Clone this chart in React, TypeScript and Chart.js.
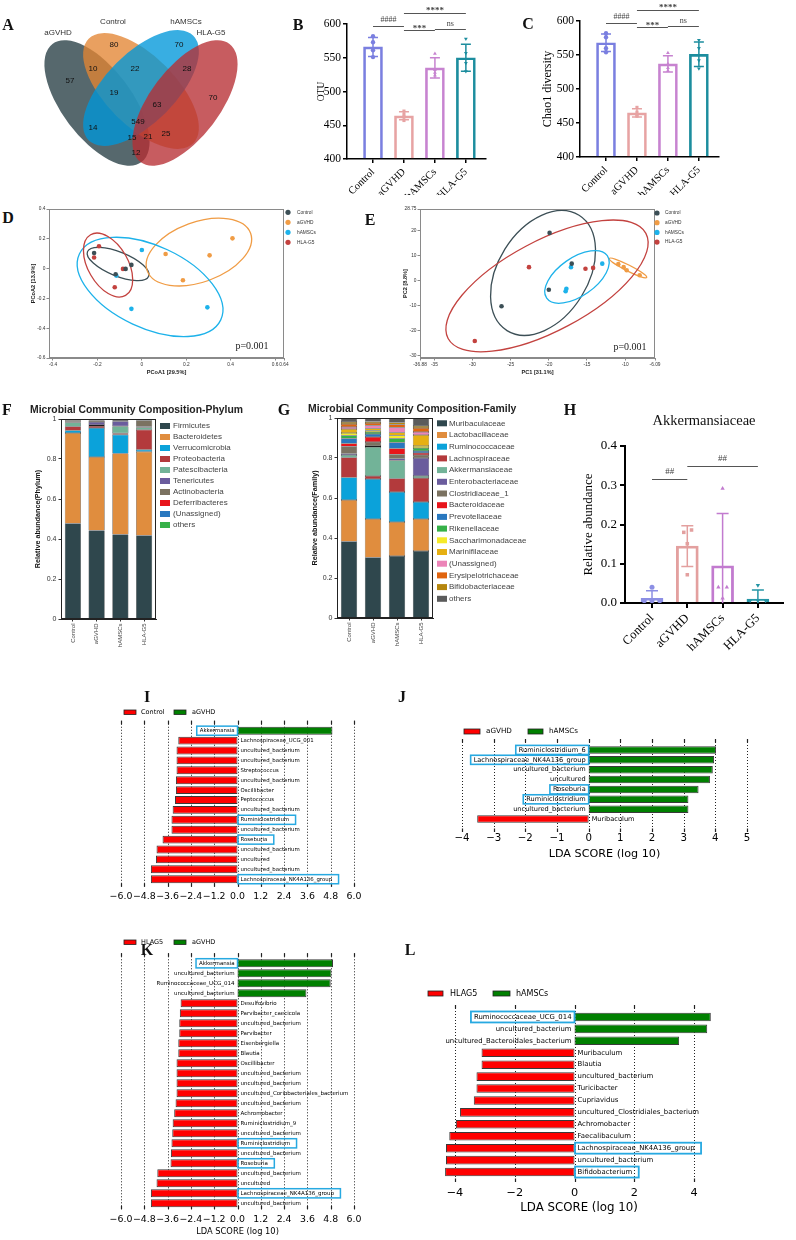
import React, { useEffect, useRef } from "react";
import { Chart, registerables } from "chart.js";

Chart.register(...registerables);

const SERIF = '"Liberation Serif", "Times New Roman", serif';
const SANS = '"Liberation Sans", Arial, sans-serif';
const DJV = '"DejaVu Sans", sans-serif';

const GROUPS = ["Control", "aGVHD", "hAMSCs", "HLA-G5"];

/* ---------- A : Venn ---------- */
const VENN_SETS = ["aGVHD", "Control", "hAMSCs", "HLA-G5"];
const VENN_COLORS = ["#263e44", "#e38533", "#0097da", "#b72e33"];
const VENN_COUNTS = [57, 80, 10, 22, 70, 28, 70, 19, 63, 549, 14, 15, 21, 25, 12];
const VENN_COUNT_POS = [[70, 81], [114, 45], [93, 69], [135, 69], [179, 45], [187, 69], [213, 98], [114, 93], [157, 105], [138, 122], [93, 128], [132, 138], [148, 137], [166, 134], [136, 153]];
const VENN_NAME_POS = [[58, 33], [113, 22], [186, 22], [211, 33]];
const VENN_SHAPES = [
  { cx: 97, cy: 103, a: 74, b: 35, rot: 53 },
  { cx: 141, cy: 91, a: 74, b: 35, rot: 45 },
  { cx: 141, cy: 88, a: 74, b: 35, rot: -45 },
  { cx: 185, cy: 103, a: 74, b: 35, rot: -53 },
];

/* ---------- B, C, H : bar + dots ---------- */
const BC_COLORS = ["#7a7fe0", "#e7a3a3", "#c783d0", "#1c8d9e"];
const H_COLORS = ["#8c8fe4", "#e3a09f", "#c27bcf", "#2596a6"];
const POINT_SHAPES = ["circle", "rect", "triangle", "triangle"];
const POINT_ROT = [0, 0, 0, 180];

const OTU_MEAN = [566, 464, 535, 550];
const OTU_SD = [14, 6, 15, 20];
const OTU_POINTS = [[582, 573, 561, 551], [471, 466, 462, 457], [556, 532, 528, 524], [578, 557, 542, 530]];
const OTU_SIG = [
  { a: 0, b: 1, y: 597, t: "####", dy: -5, bold: false },
  { a: 1, b: 3, y: 616, t: "****", dy: -1, bold: true },
  { a: 1, b: 2, y: 591, t: "***", dy: 0, bold: true },
  { a: 2, b: 3, y: 593, t: "ns", dy: -4, bold: false },
];

const CHAO_MEAN = [568, 465, 537, 551];
const CHAO_SD = [13, 6, 12, 18];
const CHAO_POINTS = [[582, 576, 560, 554], [473, 466, 461, 460], [553, 537, 531, 527], [572, 560, 542, 530]];
const CHAO_SIG = OTU_SIG;

const AKK_MEAN = [0.012, 0.145, 0.095, 0.01];
const AKK_SD = [0.019, 0.052, 0.133, 0.023];
const AKK_POINTS = [[0.04, 0.006, 0.006, 0.006], [0.186, 0.18, 0.151, 0.072], [0.292, 0.04, 0.04, 0.012], [0.045, 0.006, 0.006, 0.006]];
const AKK_JITTER = [[0, -0.22, 0, 0.22], [0.12, -0.1, 0, 0], [0, -0.12, 0.12, 0], [0, -0.22, 0, 0.22]];
const AKK_SIG = [
  { a: 0, b: 1, y: 0.316, t: "##", dy: -6, bold: false },
  { a: 1, b: 3, y: 0.349, t: "##", dy: -6, bold: false },
];

/* ---------- D, E : ordination ---------- */
const ORD_COLORS = ["#3c4f56", "#f09c45", "#1db2ea", "#c3423f"];
const PCOA_POINTS = [
  [[-0.215, 0.105], [-0.047, 0.025], [-0.073, -0.002], [-0.118, -0.038]],
  [[0.107, 0.098], [0.185, -0.078], [0.305, 0.089], [0.408, 0.203]],
  [[0.0, 0.125], [-0.115, -0.047], [-0.047, -0.27], [0.295, -0.26]],
  [[-0.193, 0.15], [-0.215, 0.074], [-0.085, -0.002], [-0.122, -0.125]],
];
const PCOA_ELLIPSES = [
  { cx: -0.107, cy: 0.031, a: 33, b: 12, rot: 22 },
  { cx: 0.257, cy: 0.111, a: 55, b: 30, rot: -20 },
  { cx: 0.037, cy: -0.123, a: 78, b: 41, rot: 25 },
  { cx: -0.152, cy: 0.024, a: 35, b: 20, rot: 60 },
];
const PCOA_XTICKS = [-0.4, -0.2, 0, 0.2, 0.4, 0.6, 0.64];
const PCOA_YTICKS = [-0.6, -0.4, -0.2, 0, 0.2, 0.4];

const PCA_POINTS = [
  [[-19.9, 19.2], [-17.0, 6.9], [-20.0, -3.5], [-26.2, -10.1]],
  [[-10.9, 6.7], [-10.2, 5.5], [-9.8, 4.3], [-8.1, 2.3]],
  [[-17.1, 5.5], [-13.0, 6.9], [-17.7, -3.1], [-17.8, -4.1]],
  [[-22.6, 5.5], [-15.2, 4.9], [-14.2, 5.2], [-29.7, -24.0]],
];
const PCA_ELLIPSES = [
  { cx: -20.76, cy: 3.2, a: 68, b: 45, rot: -58 },
  { cx: -9.63, cy: 5.2, a: 21, b: 3, rot: 27 },
  { cx: -16.31, cy: 1.6, a: 37, b: 19, rot: -35 },
  { cx: -20.24, cy: -2.0, a: 112, b: 45, rot: -28 },
];
const PCA_XTICKS = [-36.88, -35, -30, -25, -20, -15, -10, -6.09];
const PCA_YTICKS = [-30, -20, -10, 0, 10, 20, 28.75];

/* ---------- F, G : composition ---------- */
const PHYLA = ["Firmicutes", "Bacteroidetes", "Verrucomicrobia", "Proteobacteria", "Patescibacteria", "Tenericutes", "Actinobacteria", "Deferribacteres", "(Unassigned)", "others"];
const PHYLA_COLORS = ["#2f474d", "#e08d3e", "#0ba2da", "#b33a3c", "#72b398", "#6a5c9d", "#7b7261", "#e8151b", "#2978bf", "#36b149"];
const PHYLUM_ABUND = [
  [0.478, 0.443, 0.423, 0.418],
  [0.452, 0.367, 0.405, 0.418],
  [0.012, 0.145, 0.093, 0.01],
  [0.02, 0.01, 0.008, 0.1],
  [0.02, 0.005, 0.035, 0.012],
  [0.004, 0.015, 0.025, 0.004],
  [0.008, 0.008, 0.005, 0.03],
  [0.004, 0.004, 0.004, 0.003],
  [0.001, 0.002, 0.002, 0.003],
  [0.001, 0.001, 0.003, 0.002],
];
const FAMILIES = ["Muribaculaceae", "Lactobacillaceae", "Ruminococcaceae", "Lachnospiraceae", "Akkermansiaceae", "Enterobacteriaceae", "Clostridiaceae_1", "Bacteroidaceae", "Prevotellaceae", "Rikenellaceae", "Saccharimonadaceae", "Marinifilaceae", "(Unassigned)", "Erysipelotrichaceae", "Bifidobacteriaceae", "others"];
const FAMILY_COLORS = ["#2f474d", "#e08d3e", "#0ba2da", "#b33a3c", "#72b398", "#6a5c9d", "#7b7261", "#e8151b", "#2978bf", "#36b149", "#f5ea2a", "#e6b012", "#ec84b8", "#e0640f", "#b5860d", "#5b5b5b"];
const FAMILY_ABUND = [
  [0.383, 0.303, 0.31, 0.335],
  [0.207, 0.192, 0.17, 0.16],
  [0.113, 0.2, 0.15, 0.085],
  [0.1, 0.015, 0.068, 0.12],
  [0.012, 0.145, 0.09, 0.01],
  [0.008, 0.005, 0.01, 0.09],
  [0.035, 0.02, 0.02, 0.015],
  [0.015, 0.025, 0.03, 0.01],
  [0.025, 0.015, 0.03, 0.01],
  [0.015, 0.01, 0.02, 0.015],
  [0.012, 0.008, 0.015, 0.01],
  [0.02, 0.01, 0.015, 0.055],
  [0.01, 0.015, 0.025, 0.015],
  [0.015, 0.012, 0.015, 0.02],
  [0.01, 0.008, 0.01, 0.01],
  [0.02, 0.017, 0.022, 0.04],
];

/* ---------- I, J, K, L : LEfSe ---------- */
const I_NAMES = ["Akkermansia", "Lachnospiraceae_UCG_001", "uncultured_bacterium", "uncultured_bacterium", "Streptococcus", "uncultured_bacterium", "Oscillibacter", "Peptococcus", "uncultured_bacterium", "Ruminiclostridium", "uncultured_bacterium", "Roseburia", "uncultured_bacterium", "uncultured", "uncultured_bacterium", "Lachnospiraceae_NK4A136_group"];
const I_LDA = [4.89, -3.05, -3.14, -3.14, -3.14, -3.17, -3.17, -3.22, -3.34, -3.4, -3.4, -3.86, -4.17, -4.2, -4.46, -4.46];
const I_BOXED = [0, 9, 11, 15];

const J_NAMES = ["Ruminiclostridium_6", "Lachnospiraceae_NK4A136_group", "uncultured_bacterium", "uncultured", "Roseburia", "Ruminiclostridium", "uncultured_bacterium", "Muribaculum"];
const J_LDA = [4.02, 3.96, 3.92, 3.83, 3.47, 3.15, 3.15, -3.52];
const J_BOXED = [0, 1, 4, 5];

const K_NAMES = ["Akkermansia", "uncultured_bacterium", "Ruminococcaceae_UCG_014", "uncultured_bacterium", "Desulfovibrio", "Parvibacter_caecicola", "uncultured_bacterium", "Parvibacter", "Eisenbergiella", "Blautia", "Oscillibacter", "uncultured_bacterium", "uncultured_bacterium", "uncultured_Coriobacteriales_bacterium", "uncultured_bacterium", "Achromobacter", "Ruminiclostridium_9", "uncultured_bacterium", "Ruminiclostridium", "uncultured_bacterium", "Roseburia", "uncultured_bacterium", "uncultured", "Lachnospiraceae_NK4A136_group", "uncultured_bacterium"];
const K_LDA = [4.92, 4.84, 4.8, 3.55, -2.93, -2.97, -3.0, -3.0, -3.05, -3.05, -3.14, -3.14, -3.14, -3.14, -3.19, -3.26, -3.34, -3.36, -3.4, -3.43, -3.45, -4.13, -4.17, -4.46, -4.46];
const K_BOXED = [0, 18, 20, 23];

const L_NAMES = ["Ruminococcaceae_UCG_014", "uncultured_bacterium", "uncultured_Bacteroidales_bacterium", "Muribaculum", "Blautia", "uncultured_bacterium", "Turicibacter", "Cupriavidus", "uncultured_Clostridiales_bacterium", "Achromobacter", "Faecalibaculum", "Lachnospiraceae_NK4A136_group", "uncultured_bacterium", "Bifidobacterium"];
const L_LDA = [4.56, 4.44, 3.5, -3.11, -3.11, -3.28, -3.28, -3.37, -3.83, -3.97, -4.19, -4.3, -4.3, -4.33];
const L_BOXED = [0, 11, 13];

const LDA_TICKS_IK = [-6.0, -4.8, -3.6, -2.4, -1.2, 0, 1.2, 2.4, 3.6, 4.8, 6.0];
const LDA_TICKS_J = [-4, -3, -2, -1, 0, 1, 2, 3, 4, 5];
const LDA_TICKS_L = [-4, -2, 0, 2, 4];

const LETTERS: [string, number, number][] = [
  ["A", 8, 25], ["B", 298, 25], ["C", 528, 24], ["D", 8, 218], ["E", 370, 220], ["F", 7, 410],
  ["G", 284, 410], ["H", 570, 410], ["I", 147, 697], ["J", 402, 697], ["K", 147, 950], ["L", 410, 950],
];

/* ---------- helpers ---------- */
const BASE = { responsive: false, animation: false, events: [] as string[] };
const NOPLUG = { legend: { display: false }, tooltip: { enabled: false } };

function vennConfig(): any {
  return {
    type: "scatter",
    data: { datasets: [{ data: VENN_COUNT_POS.map((p) => ({ x: p[0], y: p[1] })), pointRadius: 0 }] },
    options: {
      ...BASE,
      layout: { padding: 0 },
      plugins: NOPLUG,
      scales: {
        x: { type: "linear", min: 0, max: 240, display: false },
        y: { type: "linear", min: 0, max: 190, reverse: true, display: false },
      },
    },
    plugins: [
      {
        id: "venn",
        beforeDatasetsDraw(chart: any) {
          const { ctx } = chart;
          const xs = chart.scales.x, ys = chart.scales.y;
          const k = xs.getPixelForValue(1) - xs.getPixelForValue(0);
          ctx.save();
          VENN_SHAPES.forEach((e, i) => {
            ctx.beginPath();
            ctx.ellipse(xs.getPixelForValue(e.cx), ys.getPixelForValue(e.cy), e.a * k, e.b * k, (e.rot * Math.PI) / 180, 0, Math.PI * 2);
            ctx.globalAlpha = 0.78;
            ctx.fillStyle = VENN_COLORS[i];
            ctx.fill();
          });
          ctx.restore();
        },
        afterDatasetsDraw(chart: any) {
          const { ctx } = chart;
          const xs = chart.scales.x, ys = chart.scales.y;
          const meta = chart.getDatasetMeta(0);
          ctx.save();
          ctx.font = `8px ${SANS}`;
          ctx.textAlign = "center";
          ctx.textBaseline = "middle";
          ctx.fillStyle = "#111";
          meta.data.forEach((pt: any, i: number) => ctx.fillText(String(VENN_COUNTS[i]), pt.x, pt.y));
          ctx.fillStyle = "#333";
          VENN_NAME_POS.forEach((p, i) => ctx.fillText(VENN_SETS[i], xs.getPixelForValue(p[0]), ys.getPixelForValue(p[1])));
          ctx.restore();
        },
      },
    ],
  };
}

function barDotConfig(o: any): any {
  const datasets: any[] = [
    {
      type: "bar",
      data: o.means.map((m: number, i: number) => ({ x: i, y: m })),
      backgroundColor: "rgba(255,255,255,0)",
      borderColor: o.colors,
      borderWidth: o.barBorder,
      barThickness: o.barW,
      base: o.yMin,
      borderSkipped: "start",
      order: 2,
    },
  ];
  o.points.forEach((pts: number[], i: number) =>
    datasets.push({
      type: "scatter",
      data: pts.map((v, j) => ({ x: i + (o.jitter ? o.jitter[i][j] : 0), y: v })),
      pointStyle: POINT_SHAPES[i],
      pointRotation: POINT_ROT[i],
      pointRadius: o.ptR,
      backgroundColor: o.colors[i],
      borderColor: o.colors[i],
      borderWidth: 0,
      order: 1,
    })
  );
  return {
    type: "bar",
    data: { datasets },
    options: {
      ...BASE,
      layout: { padding: o.pad },
      plugins: NOPLUG,
      scales: {
        x: {
          type: "linear", min: o.xMin, max: o.xMax, offset: false,
          afterBuildTicks: (s: any) => { s.ticks = GROUPS.map((_, i) => ({ value: i })); },
          afterFit: (s: any) => { s.height = o.xH; },
          grid: { display: true, drawOnChartArea: false, offset: false, color: "#000", lineWidth: o.axisW, tickLength: o.tickLen },
          border: { color: "#000", width: o.axisW },
          ticks: { autoSkip: false, minRotation: 45, maxRotation: 45, padding: o.xTickPad, color: "#000", font: { family: SERIF, size: o.xFont }, callback: (v: number) => GROUPS[Math.round(v)] },
        },
        y: {
          type: "linear", min: o.yMin, max: o.yMax, beginAtZero: false,
          afterFit: (s: any) => { s.width = o.yW; },
          grid: { drawOnChartArea: false, color: "#000", lineWidth: o.axisW, tickLength: o.tickLen },
          border: { color: "#000", width: o.axisW },
          ticks: { stepSize: o.yStep, padding: o.yTickPad, color: "#000", font: { family: SERIF, size: o.yFont }, callback: o.yFmt },
          title: { display: true, text: o.yTitle, color: "#000", font: { family: SERIF, size: o.yTitleFont }, padding: { top: o.yTitlePad, bottom: 0 } },
        },
      },
    },
    plugins: [
      {
        id: "barDotDeco",
        afterDatasetDraw(chart: any, args: any) {
          if (args.index !== 0) return;
          const { ctx, chartArea } = chart;
          const xs = chart.scales.x, ys = chart.scales.y;
          ctx.save();
          ctx.beginPath();
          ctx.rect(chartArea.left, chartArea.top - 30, chartArea.right - chartArea.left, chartArea.bottom - chartArea.top + 30);
          ctx.clip();
          o.means.forEach((m: number, i: number) => {
            const x = xs.getPixelForValue(i);
            const y1 = ys.getPixelForValue(m + o.sds[i]);
            const y0 = ys.getPixelForValue(m - o.sds[i]);
            ctx.strokeStyle = o.colors[i];
            ctx.lineWidth = o.errW;
            ctx.beginPath();
            ctx.moveTo(x, y0); ctx.lineTo(x, y1);
            ctx.moveTo(x - o.cap / 2, y1); ctx.lineTo(x + o.cap / 2, y1);
            ctx.moveTo(x - o.cap / 2, y0); ctx.lineTo(x + o.cap / 2, y0);
            ctx.stroke();
          });
          ctx.restore();
        },
        afterDraw(chart: any) {
          const { ctx } = chart;
          const xs = chart.scales.x, ys = chart.scales.y;
          ctx.save();
          o.sig.forEach((s: any) => {
            const x1 = xs.getPixelForValue(s.a), x2 = xs.getPixelForValue(s.b);
            const y = Math.round(ys.getPixelForValue(s.y)) + 0.5;
            ctx.strokeStyle = "#555";
            ctx.lineWidth = 1;
            ctx.beginPath(); ctx.moveTo(x1, y); ctx.lineTo(x2, y); ctx.stroke();
            ctx.font = `${s.bold ? "bold " : ""}${s.bold ? o.sigFont + 1 : o.sigFont}px ${SERIF}`;
            ctx.fillStyle = "#444";
            ctx.textAlign = "center";
            ctx.textBaseline = "alphabetic";
            ctx.fillText(s.t, (x1 + x2) / 2, y + s.dy);
          });
          ctx.restore();
        },
      },
    ],
  };
}

function fmtNum(v: number) {
  return Math.abs(v) < 1e-9 ? "0" : String(v);
}

function ordConfig(o: any): any {
  return {
    type: "scatter",
    data: {
      datasets: o.points.map((pts: number[][], i: number) => ({
        data: pts.map((p) => ({ x: p[0], y: p[1] })),
        backgroundColor: ORD_COLORS[i], borderColor: ORD_COLORS[i], pointRadius: 2.3, borderWidth: 0,
      })),
    },
    options: {
      ...BASE,
      layout: { padding: o.pad },
      plugins: NOPLUG,
      scales: {
        x: {
          type: "linear", min: o.xMin, max: o.xMax,
          afterBuildTicks: (s: any) => { s.ticks = o.xTicks.map((v: number) => ({ value: v })); },
          afterFit: (s: any) => { s.height = o.xH; },
          grid: { drawOnChartArea: false, color: "#8a8a8a", tickLength: 2.5 },
          border: { color: "#8a8a8a", width: 1 },
          ticks: { autoSkip: false, maxRotation: 0, minRotation: 0, padding: 1, color: "#333", font: { family: SANS, size: 4.8 }, callback: fmtNum },
          title: { display: true, text: o.xTitle, color: "#222", font: { family: SANS, size: 5.6, weight: "bold" }, padding: { top: 0, bottom: o.xTitlePad } },
        },
        y: {
          type: "linear", min: o.yMin, max: o.yMax,
          afterBuildTicks: (s: any) => { s.ticks = o.yTicks.map((v: number) => ({ value: v })); },
          afterFit: (s: any) => { s.width = o.yW; },
          grid: { drawOnChartArea: false, color: "#8a8a8a", tickLength: 2.5 },
          border: { color: "#8a8a8a", width: 1 },
          ticks: { autoSkip: false, padding: 1, color: "#333", font: { family: SANS, size: 4.8 }, callback: fmtNum },
          title: { display: true, text: o.yTitle, color: "#222", font: { family: SANS, size: 5.6, weight: "bold" }, padding: { top: o.yTitlePad, bottom: 0 } },
        },
      },
    },
    plugins: [
      {
        id: "ordDeco",
        beforeDatasetsDraw(chart: any) {
          const { ctx } = chart;
          const xs = chart.scales.x, ys = chart.scales.y;
          ctx.save();
          o.ellipses.forEach((e: any, i: number) => {
            ctx.beginPath();
            ctx.ellipse(xs.getPixelForValue(e.cx), ys.getPixelForValue(e.cy), e.a, e.b, (e.rot * Math.PI) / 180, 0, Math.PI * 2);
            ctx.strokeStyle = ORD_COLORS[i];
            ctx.lineWidth = 1.3;
            ctx.stroke();
          });
          ctx.restore();
        },
        afterDraw(chart: any) {
          const { ctx, chartArea: a } = chart;
          ctx.save();
          ctx.strokeStyle = "#8a8a8a";
          ctx.lineWidth = 1;
          ctx.strokeRect(a.left + 0.5, a.top + 0.5, a.right - a.left - 1, a.bottom - a.top - 1);
          ctx.font = `4.8px ${SANS}`;
          ctx.textAlign = "left";
          ctx.textBaseline = "middle";
          GROUPS.forEach((g, i) => {
            const y = o.legY + i * o.legDy;
            ctx.beginPath();
            ctx.arc(o.legX, y, 2.6, 0, Math.PI * 2);
            ctx.fillStyle = ORD_COLORS[i];
            ctx.fill();
            ctx.fillStyle = "#333";
            ctx.fillText(g, o.legTx, y);
          });
          ctx.font = `10px ${SERIF}`;
          ctx.textAlign = "center";
          ctx.fillStyle = "#222";
          ctx.fillText("p=0.001", o.pX, o.pY);
          ctx.restore();
        },
      },
    ],
  };
}

function stackConfig(o: any): any {
  return {
    type: "bar",
    data: {
      labels: GROUPS,
      datasets: o.names.map((n: string, i: number) => ({
        label: n, data: o.values[i], backgroundColor: o.colors[i], borderColor: "#1c1c1c", borderWidth: 0.5,
        borderSkipped: false, barPercentage: 0.68, categoryPercentage: 1,
      })),
    },
    options: {
      ...BASE,
      layout: { padding: o.pad },
      plugins: NOPLUG,
      scales: {
        x: {
          stacked: true,
          afterFit: (s: any) => { s.height = o.xH; },
          grid: { drawOnChartArea: false, offset: false, color: "#333", tickLength: 2.5 },
          border: { color: "#222", width: 1 },
          ticks: { autoSkip: false, minRotation: 90, maxRotation: 90, padding: 2, color: "#444", font: { family: SANS, size: 6 } },
        },
        y: {
          stacked: true, min: 0, max: 1,
          afterFit: (s: any) => { s.width = o.yW; },
          grid: { drawOnChartArea: false, color: "#333", tickLength: 2.5 },
          border: { color: "#222", width: 1 },
          ticks: { stepSize: 0.2, padding: 2, color: "#333", font: { family: SANS, size: 7 }, callback: (v: number) => (v < 1e-9 ? "0" : v > 0.999 ? "1" : v.toFixed(1)) },
          title: { display: true, text: o.yTitle, color: "#111", font: { family: SANS, size: 7.2, weight: "bold" }, padding: { top: o.yTitlePad, bottom: 0 } },
        },
      },
    },
    plugins: [
      {
        id: "stackDeco",
        afterDraw(chart: any) {
          const { ctx, chartArea: a } = chart;
          ctx.save();
          ctx.strokeStyle = "#222";
          ctx.lineWidth = 1;
          ctx.strokeRect(a.left + 0.5, a.top + 0.5, a.right - a.left - 1, a.bottom - a.top - 1);
          ctx.font = `8px ${SANS}`;
          ctx.textAlign = "left";
          ctx.textBaseline = "middle";
          o.names.forEach((n: string, i: number) => {
            const y = o.legY + i * o.legDy;
            ctx.fillStyle = o.colors[i];
            ctx.fillRect(o.legX, y - 3, 10, 6);
            ctx.fillStyle = "#444";
            ctx.fillText(n, o.legTx, y);
          });
          ctx.restore();
        },
      },
    ],
  };
}

function ldaConfig(o: any): any {
  const RED = "#ff0000", GREEN = "#008000";
  return {
    type: "bar",
    data: {
      labels: o.names,
      datasets: [{
        data: o.values,
        backgroundColor: o.values.map((v: number) => (v < 0 ? RED : GREEN)),
        borderColor: "#3a3a3a", borderWidth: 1, borderSkipped: false,
        barPercentage: o.barPct, categoryPercentage: 1,
      }],
    },
    options: {
      ...BASE,
      indexAxis: "y",
      layout: { padding: o.pad },
      plugins: NOPLUG,
      scales: {
        x: {
          type: "linear", min: o.min, max: o.max,
          afterBuildTicks: (s: any) => { s.ticks = o.ticks.map((v: number) => ({ value: v })); },
          afterFit: (s: any) => { s.height = o.xH; },
          grid: { display: false, drawTicks: false },
          border: { display: false },
          ticks: { autoSkip: false, maxRotation: 0, minRotation: 0, padding: o.tickPad, color: "#000", font: { family: DJV, size: o.tickFont }, callback: o.fmt },
          title: o.title
            ? { display: true, text: o.title, color: "#000", font: { family: DJV, size: o.titleFont }, padding: { top: 0, bottom: o.titlePad } }
            : { display: false },
        },
        y: { type: "category", display: false, offset: true, grid: { display: false } },
      },
    },
    plugins: [
      {
        id: "ldaDeco",
        beforeDatasetsDraw(chart: any) {
          const { ctx, chartArea } = chart;
          const xs = chart.scales.x;
          const t = chartArea.top - o.extTop, b = chartArea.bottom + o.extBot;
          ctx.save();
          o.ticks.forEach((v: number) => {
            const x = Math.round(xs.getPixelForValue(v)) + 0.5;
            ctx.strokeStyle = "#222";
            ctx.lineWidth = 1;
            ctx.setLineDash([1, 2]);
            ctx.beginPath(); ctx.moveTo(x, t); ctx.lineTo(x, b); ctx.stroke();
            ctx.setLineDash([]);
            ctx.lineWidth = 1.2;
            ctx.beginPath();
            ctx.moveTo(x, t); ctx.lineTo(x, t + 3.5);
            ctx.moveTo(x, b); ctx.lineTo(x, b - 3.5);
            ctx.stroke();
          });
          ctx.restore();
        },
        afterDatasetsDraw(chart: any) {
          const { ctx } = chart;
          const xs = chart.scales.x;
          const meta = chart.getDatasetMeta(0);
          const x0 = xs.getPixelForValue(0);
          const rowH = Math.abs(meta.data[1].y - meta.data[0].y);
          ctx.save();
          ctx.font = `${o.nameFont}px ${DJV}`;
          ctx.textBaseline = "middle";
          o.names.forEach((n: string, i: number) => {
            const y = meta.data[i].y;
            const w = ctx.measureText(n).width;
            ctx.fillStyle = "#000";
            if (o.values[i] < 0) { ctx.textAlign = "left"; ctx.fillText(n, x0 + 3, y); }
            else { ctx.textAlign = "right"; ctx.fillText(n, x0 - 3, y); }
            if (o.boxed.includes(i)) {
              ctx.strokeStyle = "#27a9e1";
              ctx.lineWidth = o.boxLW;
              const h = rowH * 0.92;
              if (o.values[i] < 0) ctx.strokeRect(x0 + 0.5, y - h / 2, w + 9, h);
              else ctx.strokeRect(x0 - w - 6, y - h / 2, w + 6, h);
            }
          });
          ctx.font = `${o.legFont}px ${DJV}`;
          ctx.textAlign = "left";
          o.legend.forEach((l: any) => {
            ctx.fillStyle = l.color;
            ctx.fillRect(l.x, l.y, l.w, l.h);
            ctx.strokeStyle = "#222";
            ctx.lineWidth = 0.8;
            ctx.strokeRect(l.x, l.y, l.w, l.h);
            ctx.fillStyle = "#000";
            ctx.fillText(l.text, l.tx, l.y + l.h / 2);
          });
          ctx.restore();
        },
      },
    ],
  };
}

const minus = (s: string) => s.replace("-", "\u2212");
const fmt1 = (v: number) => minus(v.toFixed(1));
const fmt0 = (v: number) => minus(String(Math.round(v)));

/* ---------- configs ---------- */
const makeA = () => vennConfig();
const makeB = () => barDotConfig({
  means: OTU_MEAN, sds: OTU_SD, points: OTU_POINTS, colors: BC_COLORS, sig: OTU_SIG,
  yMin: 400, yMax: 600, yStep: 50, xMin: -0.84, xMax: 3.65,
  pad: { left: 0, top: 24, right: 14, bottom: 0 }, yW: 47, xH: 36,
  barW: 19, barBorder: 2, errW: 1.5, cap: 10, ptR: 2.2, axisW: 1.5, tickLen: 4,
  xTickPad: 3, yTickPad: 2, xFont: 10.5, yFont: 11.5, yFmt: (v: number) => String(v),
  yTitle: "OTU", yTitleFont: 9.5, yTitlePad: 16, sigFont: 8,
});
const makeC = () => barDotConfig({
  means: CHAO_MEAN, sds: CHAO_SD, points: CHAO_POINTS, colors: BC_COLORS, sig: CHAO_SIG,
  yMin: 400, yMax: 600, yStep: 50, xMin: -0.84, xMax: 3.65,
  pad: { left: 0, top: 21, right: 14, bottom: 0 }, yW: 47, xH: 38,
  barW: 19, barBorder: 2, errW: 1.5, cap: 10, ptR: 2.2, axisW: 1.5, tickLen: 4,
  xTickPad: 3, yTickPad: 2, xFont: 10.5, yFont: 11.5, yFmt: (v: number) => String(v),
  yTitle: "Chao1 diversity", yTitleFont: 12, yTitlePad: 8, sigFont: 8,
});
const makeH = () => barDotConfig({
  means: AKK_MEAN, sds: AKK_SD, points: AKK_POINTS, jitter: AKK_JITTER, colors: H_COLORS, sig: AKK_SIG,
  yMin: 0, yMax: 0.4, yStep: 0.1, xMin: -0.765, xMax: 3.711,
  pad: { left: 0, top: 16, right: 13, bottom: 0 }, yW: 65, xH: 87,
  barW: 22, barBorder: 2.2, errW: 1.5, cap: 12, ptR: 2.5, axisW: 2, tickLen: 5,
  xTickPad: 3, yTickPad: 3, xFont: 12.5, yFont: 13, yFmt: (v: number) => v.toFixed(1),
  yTitle: "Relative abundance", yTitleFont: 13, yTitlePad: 21, sigFont: 9,
});
const makeD = () => ordConfig({
  points: PCOA_POINTS, ellipses: PCOA_ELLIPSES, xMin: -0.418, xMax: 0.64, yMin: -0.6, yMax: 0.4,
  xTicks: PCOA_XTICKS, yTicks: PCOA_YTICKS, pad: { left: 0, top: 9, right: 96, bottom: 0 }, yW: 29, xH: 22,
  xTitle: "PCoA1 [29.5%]", yTitle: "PCoA2 [13.9%]", xTitlePad: 4.6, yTitlePad: 9.6,
  legX: 268, legY: 12.3, legDy: 10, legTx: 277, pX: 232, pY: 146,
});
const makeE = () => ordConfig({
  points: PCA_POINTS, ellipses: PCA_ELLIPSES, xMin: -36.88, xMax: -6.09, yMin: -30.8, yMax: 28.75,
  xTicks: PCA_XTICKS, yTicks: PCA_YTICKS, pad: { left: 0, top: 9, right: 135, bottom: 0 }, yW: 30, xH: 22,
  xTitle: "PC1 [31.1%]", yTitle: "PC2 [8.8%]", xTitlePad: 4.6, yTitlePad: 11.6,
  legX: 267, legY: 13, legDy: 9.7, legTx: 275, pX: 240, pY: 147,
});
const makeF = () => stackConfig({
  names: PHYLA, values: PHYLUM_ABUND, colors: PHYLA_COLORS,
  pad: { left: 0, top: 19, right: 114, bottom: 0 }, yW: 61, xH: 71,
  yTitle: "Relative abundance(Phylum)", yTitlePad: 34, legX: 160, legY: 26, legDy: 11, legTx: 173,
});
const makeG = () => stackConfig({
  names: FAMILIES, values: FAMILY_ABUND, colors: FAMILY_COLORS,
  pad: { left: 0, top: 18, right: 127, bottom: 0 }, yW: 67, xH: 72,
  yTitle: "Relative abundance(Family)", yTitlePad: 40.7, legX: 167, legY: 23.3, legDy: 11.7, legTx: 179,
});
const makeI = () => ldaConfig({
  names: I_NAMES, values: I_LDA, boxed: I_BOXED, min: -6, max: 6, ticks: LDA_TICKS_IK, fmt: fmt1,
  pad: { left: 39, right: 16, top: 25.75, bottom: 0 }, xH: 25.85, tickPad: 7.2, tickFont: 9.4,
  nameFont: 5.4, barPct: 0.8, boxLW: 1.5, extTop: 5, extBot: 2.5, legFont: 6.5,
  legend: [
    { color: "#ff0000", text: "Control", x: 42, y: 10, w: 12, h: 4.5, tx: 59 },
    { color: "#008000", text: "aGVHD", x: 92, y: 10, w: 12, h: 4.5, tx: 110 },
  ],
});
const makeJ = () => ldaConfig({
  names: J_NAMES, values: J_LDA, boxed: J_BOXED, min: -4, max: 5, ticks: LDA_TICKS_J, fmt: fmt0,
  pad: { left: 22, right: 33, top: 25, bottom: 0 }, xH: 46, tickPad: 7.9, tickFont: 10.2,
  title: "LDA SCORE (log 10)", titleFont: 11.2, titlePad: 9.3,
  nameFont: 6.6, barPct: 0.76, boxLW: 1.6, extTop: 6, extBot: 8, legFont: 7.2,
  legend: [
    { color: "#ff0000", text: "aGVHD", x: 24, y: 9, w: 16, h: 5, tx: 46 },
    { color: "#008000", text: "hAMSCs", x: 88, y: 9, w: 15, h: 5, tx: 109 },
  ],
});
const makeK = () => ldaConfig({
  names: K_NAMES, values: K_LDA, boxed: K_BOXED, min: -6, max: 6, ticks: LDA_TICKS_IK, fmt: fmt1,
  pad: { left: 39, right: 16, top: 28.3, bottom: 0 }, xH: 31.7, tickPad: 6, tickFont: 9.4,
  title: "LDA SCORE (log 10)", titleFont: 8.3, titlePad: 3,
  nameFont: 5.5, barPct: 0.8, boxLW: 1.5, extTop: 5, extBot: 1, legFont: 6.5,
  legend: [
    { color: "#ff0000", text: "HLAG5", x: 42, y: 10, w: 12, h: 4.5, tx: 59 },
    { color: "#008000", text: "aGVHD", x: 92, y: 10, w: 12, h: 4.5, tx: 110 },
  ],
});
const makeL = () => ldaConfig({
  names: L_NAMES, values: L_LDA, boxed: L_BOXED, min: -4.4, max: 4.7, ticks: LDA_TICKS_L, fmt: fmt0,
  pad: { left: 23, right: 45, top: 31, bottom: 0 }, xH: 47, tickPad: 8.2, tickFont: 11.3,
  title: "LDA SCORE (log 10)", titleFont: 11.8, titlePad: 9.9,
  nameFont: 6.9, barPct: 0.72, boxLW: 1.8, extTop: 6, extBot: 4, legFont: 8,
  legend: [
    { color: "#ff0000", text: "HLAG5", x: 8, y: 11, w: 15, h: 5, tx: 30 },
    { color: "#008000", text: "hAMSCs", x: 73, y: 11, w: 17, h: 5, tx: 96 },
  ],
});

function Panel(props: { left: number; top: number; width: number; height: number; make: () => any }) {
  const ref = useRef<HTMLCanvasElement | null>(null);
  useEffect(() => {
    const c = ref.current;
    if (!c) return;
    const chart = new Chart(c, props.make());
    return () => chart.destroy();
  }, []);
  return (
    <canvas
      ref={ref}
      width={props.width}
      height={props.height}
      style={{ position: "absolute", left: props.left, top: props.top, width: props.width, height: props.height }}
    />
  );
}

export default function App() {
  return (
    <div style={{ position: "absolute", left: 0, top: 0, width: 796, height: 1240, background: "#fff", overflow: "hidden" }}>
      <Panel left={0} top={0} width={240} height={190} make={makeA} />
      <Panel left={300} top={0} width={200} height={195} make={makeB} />
      <Panel left={533} top={0} width={200} height={195} make={makeC} />
      <Panel left={20} top={200} width={360} height={180} make={makeD} />
      <Panel left={390} top={200} width={400} height={180} make={makeE} />
      <Panel left={0} top={400} width={270} height={290} make={makeF} />
      <Panel left={270} top={400} width={290} height={290} make={makeG} />
      <Panel left={560} top={430} width={236} height={260} make={makeH} />
      <Panel left={82} top={700} width={288} height={210} make={makeI} />
      <Panel left={440} top={720} width={340} height={150} make={makeJ} />
      <Panel left={82} top={930} width={288} height={310} make={makeK} />
      <Panel left={420} top={980} width={340} height={245} make={makeL} />
      {LETTERS.map(([t, x, y]) => (
        <div key={t} style={{ position: "absolute", left: x, top: y, transform: "translate(-50%,-50%)", font: `bold 16px ${SERIF}`, lineHeight: "16px", color: "#111" }}>
          {t}
        </div>
      ))}
      <div style={{ position: "absolute", left: 30, top: 403, font: `bold 10.4px ${SANS}`, lineHeight: "14px", color: "#222", whiteSpace: "nowrap" }}>
        Microbial Community Composition-Phylum
      </div>
      <div style={{ position: "absolute", left: 308, top: 402, font: `bold 10.4px ${SANS}`, lineHeight: "14px", color: "#222", whiteSpace: "nowrap" }}>
        Microbial Community Composition-Family
      </div>
      <div style={{ position: "absolute", left: 704, top: 420, transform: "translate(-50%,-50%)", font: `14.5px ${SERIF}`, lineHeight: "16px", color: "#111", whiteSpace: "nowrap" }}>
        Akkermansiaceae
      </div>
    </div>
  );
}
